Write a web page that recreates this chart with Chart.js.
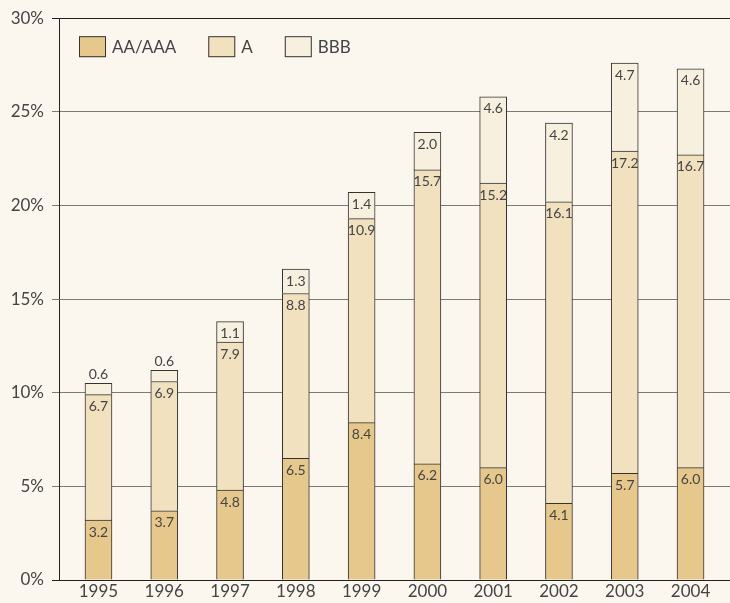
<!DOCTYPE html>
<html>
<head>
<meta charset="utf-8">
<script src="https://cdn.jsdelivr.net/npm/chart.js@4.4.1/dist/chart.umd.min.js"></script>
<style>
  html, body { margin: 0; padding: 0; background: #fbf7ef; }
  #wrap { width: 730px; height: 603px; position: relative; }
</style>
</head>
<body>
<div id="wrap"><canvas id="myChart"></canvas></div>
<script>
// Chart data
const years = ['1995', '1996', '1997', '1998', '1999', '2000', '2001', '2002', '2003', '2004'];
const aaValues = [3.2, 3.7, 4.8, 6.5, 8.4, 6.2, 6.0, 4.1, 5.7, 6.0];
const aValues = [6.7, 6.9, 7.9, 8.8, 10.9, 15.7, 15.2, 16.1, 17.2, 16.7];
const bbbValues = [0.6, 0.6, 1.1, 1.3, 1.4, 2.0, 4.6, 4.2, 4.7, 4.6];
const seriesNames = ['AA/AAA', 'A', 'BBB'];
const yTicks = [0, 5, 10, 15, 20, 25, 30];

const colors = ['#e7c88c', '#f1e1bf', '#f8f0df'];
const textColor = '#444';

function toPoints(values) {
  return values.map((v, i) => ({x: i, y: v}));
}

// Value labels inside (or just above) each segment
const valueLabels = {
  id: 'valueLabels',
  afterDatasetsDraw(chart) {
    const ctx = chart.ctx;
    ctx.save();
    ctx.font = '14px Lato';
    ctx.fillStyle = textColor;
    ctx.textAlign = 'center';
    ctx.textBaseline = 'middle';
    chart.data.datasets.forEach((ds, di) => {
      const meta = chart.getDatasetMeta(di);
      meta.data.forEach((bar, i) => {
        const h = bar.base - bar.y;
        const y = h > 16 ? bar.y + 12 : bar.y - 9;
        ctx.fillText(ds.data[i].y.toFixed(1), bar.x, y);
      });
    });
    ctx.restore();
  }
};

// Legend drawn inside the plot, top left
const innerLegend = {
  id: 'innerLegend',
  afterDraw(chart) {
    const ctx = chart.ctx;
    const area = chart.chartArea;
    ctx.save();
    ctx.font = '17px Lato';
    ctx.textBaseline = 'middle';
    let x = area.left + 20;
    const y = area.top + 18;
    chart.data.datasets.forEach(ds => {
      ctx.fillStyle = ds.backgroundColor;
      ctx.fillRect(x, y, 27, 21);
      ctx.strokeStyle = '#333';
      ctx.lineWidth = 1;
      ctx.strokeRect(x + 0.5, y + 0.5, 26, 20);
      ctx.fillStyle = textColor;
      ctx.fillText(ds.label, x + 33, y + 11);
      x += 33 + ctx.measureText(ds.label).width + 32;
    });
    ctx.restore();
  }
};

function yearLabel(v) {
  const i = Math.round(v);
  return (Math.abs(v - i) < 1e-6 && years[i]) ? years[i] : '';
}

const ctx = document.getElementById('myChart').getContext('2d');
const chart = new Chart(ctx, {
  type: 'bar',
  data: {
    datasets: [aaValues, aValues, bbbValues].map((vals, k) => ({
      label: seriesNames[k],
      data: toPoints(vals),
      backgroundColor: colors[k],
      borderColor: '#333',
      borderWidth: {top: 1, left: 1, right: 1, bottom: 0},
      borderSkipped: false,
      barThickness: 27
    }))
  },
  plugins: [valueLabels, innerLegend],
  options: {
    responsive: true,
    maintainAspectRatio: false,
    animation: false,
    layout: { padding: {top: 18, right: 0, bottom: 0, left: 0} },
    plugins: {
      legend: { display: false },
      tooltip: { enabled: false }
    },
    scales: {
      x: {
        type: 'linear',
        stacked: true,
        offset: false,
        min: -0.6,
        max: 9.6,
        afterFit(scale) { scale.height = 23; },
        afterBuildTicks(scale) { scale.ticks = years.map((y, i) => ({value: i})); },
        grid: { display: false, drawTicks: false },
        border: { display: false },
        ticks: {
          autoSkip: false,
          maxRotation: 0,
          padding: 1,
          color: textColor,
          font: { family: 'Lato', size: 17 },
          callback: yearLabel
        }
      },
      y: {
        stacked: true,
        min: 0,
        max: 30,
        afterFit(scale) { scale.width = 59; },
        afterBuildTicks(scale) { scale.ticks = yTicks.map(v => ({value: v})); },
        grid: {
          tickLength: 7,
          color: c => (c.tick && (c.tick.value === 0 || c.tick.value === 30)) ? '#222' : '#7c7a76',
          lineWidth: 1
        },
        border: { color: '#222', width: 1 },
        ticks: {
          padding: 8,
          color: textColor,
          font: { family: 'Lato', size: 17 },
          callback: v => v + '%'
        }
      }
    }
  }
});
</script>
</body>
</html>
